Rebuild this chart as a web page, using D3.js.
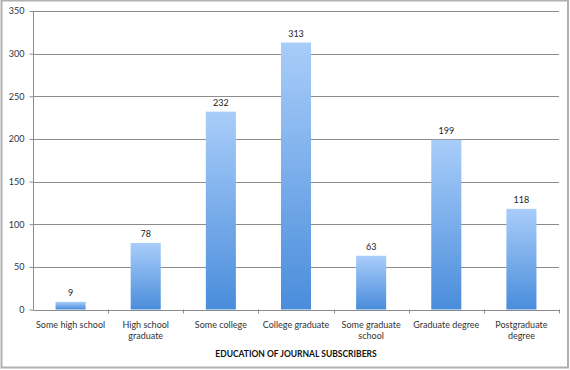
<!DOCTYPE html>
<html>
<head>
<meta charset="utf-8">
<script src="https://cdn.jsdelivr.net/npm/d3@7"></script>
<style>
  body { margin: 0; background: #fff; }
  svg { display: block; font-family: Lato, "Open Sans", sans-serif; }
</style>
</head>
<body>
<svg id="canvas" width="570" height="370"></svg>
<script>
let categories = ['Some high school', 'High school graduate', 'Some college', 'College graduate',
                  'Some graduate school', 'Graduate degree', 'Postgraduate degree'];
let labelLines = [['Some high school'], ['High school', 'graduate'], ['Some college'], ['College graduate'],
                  ['Some graduate', 'school'], ['Graduate degree'], ['Postgraduate', 'degree']];
let values = [9, 78, 232, 313, 63, 199, 118];
let yTicks = [0, 50, 100, 150, 200, 250, 300, 350];
let axisTitle = 'EDUCATION OF JOURNAL SUBSCRIBERS';

let svg = d3.select('#canvas');
let plotLeft = 33, plotRight = 559, plotTop = 11, plotBottom = 309.5;

// frame
svg.append('rect')
   .attr('x', 1.5).attr('y', 0.5)
   .attr('width', 566.5).attr('height', 367)
   .attr('fill', '#fff')
   .attr('stroke', '#b0b0b0')
   .attr('stroke-width', 2);

let defs = svg.append('defs');
let grad = defs.append('linearGradient')
   .attr('id', 'barGrad')
   .attr('x1', 0).attr('y1', 0).attr('x2', 0).attr('y2', 1);
grad.append('stop').attr('offset', '0%').attr('stop-color', '#a9cdfa');
grad.append('stop').attr('offset', '100%').attr('stop-color', '#4a8ddb');

let x = d3.scaleBand().domain(categories).range([plotLeft, plotRight]).paddingInner(0.6).paddingOuter(0.3);
let xOuter = d3.scaleBand().domain(categories).range([plotLeft, plotRight]);
let y = d3.scaleLinear().domain([0, 350]).range([plotBottom, plotTop]);

// gridlines
svg.append('g')
   .selectAll('line')
   .data(yTicks.slice(1))
   .enter()
   .append('line')
   .attr('x1', plotLeft).attr('x2', plotRight)
   .attr('y1', d => Math.round(y(d)) + 0.5)
   .attr('y2', d => Math.round(y(d)) + 0.5)
   .attr('stroke', '#8c8c8c')
   .attr('stroke-width', 1);

// y axis
let yAxis = svg.append('g')
   .attr('transform', 'translate(' + (plotLeft + 0.5) + ',0)')
   .call(d3.axisLeft(y).tickValues(yTicks).tickSize(4).tickPadding(5));
yAxis.selectAll('text').attr('font-size', 9).attr('fill', '#333').attr('font-family', 'Lato, sans-serif');
yAxis.selectAll('line, path').attr('stroke', '#8c8c8c');
yAxis.select('.domain').attr('d', 'M0,' + y(0) + 'V' + plotTop);

// x axis line and ticks
svg.append('line')
   .attr('x1', plotLeft).attr('x2', plotRight)
   .attr('y1', Math.round(y(0)) + 0.5).attr('y2', Math.round(y(0)) + 0.5)
   .attr('stroke', '#8c8c8c');
svg.append('g')
   .selectAll('line')
   .data(categories)
   .enter()
   .append('line')
   .attr('x1', d => Math.round(xOuter(d) + xOuter.bandwidth()) + 0.5)
   .attr('x2', d => Math.round(xOuter(d) + xOuter.bandwidth()) + 0.5)
   .attr('y1', y(0)).attr('y2', y(0) + 4)
   .attr('stroke', '#8c8c8c');

// bars
svg.append('g')
   .selectAll('rect')
   .data(values)
   .enter()
   .append('rect')
   .attr('x', (d, i) => x(categories[i]))
   .attr('y', d => y(d))
   .attr('width', x.bandwidth())
   .attr('height', d => y(0) - y(d))
   .attr('fill', 'url(#barGrad)');

// value labels
svg.append('g')
   .selectAll('text')
   .data(values)
   .enter()
   .append('text')
   .attr('x', (d, i) => x(categories[i]) + x.bandwidth() / 2)
   .attr('y', d => y(d) - 6)
   .attr('text-anchor', 'middle')
   .attr('font-size', 9)
   .attr('fill', '#222')
   .text(d => d);

// category labels
let catText = svg.append('g')
   .selectAll('text')
   .data(labelLines)
   .enter()
   .append('text')
   .attr('text-anchor', 'middle')
   .attr('font-size', 9)
   .attr('fill', '#333');
catText.selectAll('tspan')
   .data((d, i) => d.map(t => ({ t: t, i: i })))
   .enter()
   .append('tspan')
   .attr('x', d => xOuter(categories[d.i]) + xOuter.bandwidth() / 2)
   .attr('y', (d, j) => 328 + j * 11)
   .text(d => d.t);

// axis title
svg.append('text')
   .attr('x', (plotLeft + plotRight) / 2)
   .attr('y', 357)
   .attr('text-anchor', 'middle')
   .attr('font-size', 8.5)
   .attr('font-weight', 'bold')
   .attr('fill', '#111')
   .text(axisTitle);
</script>
</body>
</html>
